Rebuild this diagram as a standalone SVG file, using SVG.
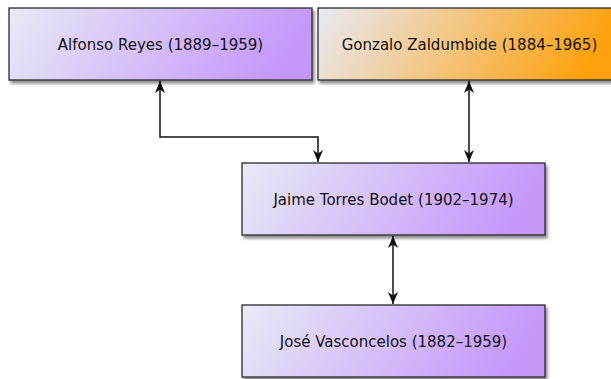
<svg xmlns="http://www.w3.org/2000/svg" width="611" height="379" viewBox="0 0 611 379">
  <defs>
    <linearGradient id="gPurple" x1="0" y1="0" x2="1" y2="0.15">
      <stop offset="0" stop-color="#e8eaf6"/>
      <stop offset="1" stop-color="#c597fb"/>
    </linearGradient>
    <linearGradient id="gOrange" x1="0" y1="0" x2="1" y2="0.15">
      <stop offset="0" stop-color="#e8eaf6"/>
      <stop offset="1" stop-color="#ffa00a"/>
    </linearGradient>
    <filter id="shadow" x="-10%" y="-20%" width="130%" height="150%">
      <feGaussianBlur in="SourceAlpha" stdDeviation="1.8"/>
      <feOffset dx="2" dy="3" result="b"/>
      <feComponentTransfer><feFuncA type="linear" slope="0.45"/></feComponentTransfer>
      <feMerge><feMergeNode/><feMergeNode in="SourceGraphic"/></feMerge>
    </filter>
    <marker id="arr" viewBox="0 0 12 10" refX="12" refY="5" markerWidth="12" markerHeight="10" markerUnits="userSpaceOnUse" orient="auto-start-reverse">
      <path d="M0,0 L12,5 L0,10 L3.5,5 Z" fill="#111"/>
    </marker>
  </defs>
  <style>
    .box { stroke: #2a2a2a; stroke-width: 1.3; filter: url(#shadow); }
    .p { fill: url(#gPurple); }
    .o { fill: url(#gOrange); }
    .lbl { font-family: "DejaVu Sans", "Liberation Sans", sans-serif; font-size: 15px; fill: #111; text-anchor: middle; }
    .edge { fill: none; stroke: #111; stroke-width: 1.5; marker-start: url(#arr); marker-end: url(#arr); }
  </style>
  <g id="connectors">
    <path class="edge" d="M160,81 L160,137 L318,137 L318,162"/>
    <path class="edge" d="M469,81 L469,162"/>
    <path class="edge" d="M393,236 L393,304"/>
  </g>
  <g id="alfonso">
    <rect class="box p" x="9" y="8" width="303" height="72"/>
    <text class="lbl" x="160.5" y="50">Alfonso Reyes (1889–1959)</text>
  </g>
  <g id="gonzalo">
    <rect class="box o" x="318" y="8" width="303" height="72"/>
    <text class="lbl" x="469.5" y="50">Gonzalo Zaldumbide (1884–1965)</text>
  </g>
  <g id="jaime">
    <rect class="box p" x="242" y="163" width="303" height="72"/>
    <text class="lbl" x="393.5" y="205">Jaime Torres Bodet (1902–1974)</text>
  </g>
  <g id="jose">
    <rect class="box p" x="242" y="305" width="303" height="72"/>
    <text class="lbl" x="393.5" y="347">José Vasconcelos (1882–1959)</text>
  </g>
</svg>
